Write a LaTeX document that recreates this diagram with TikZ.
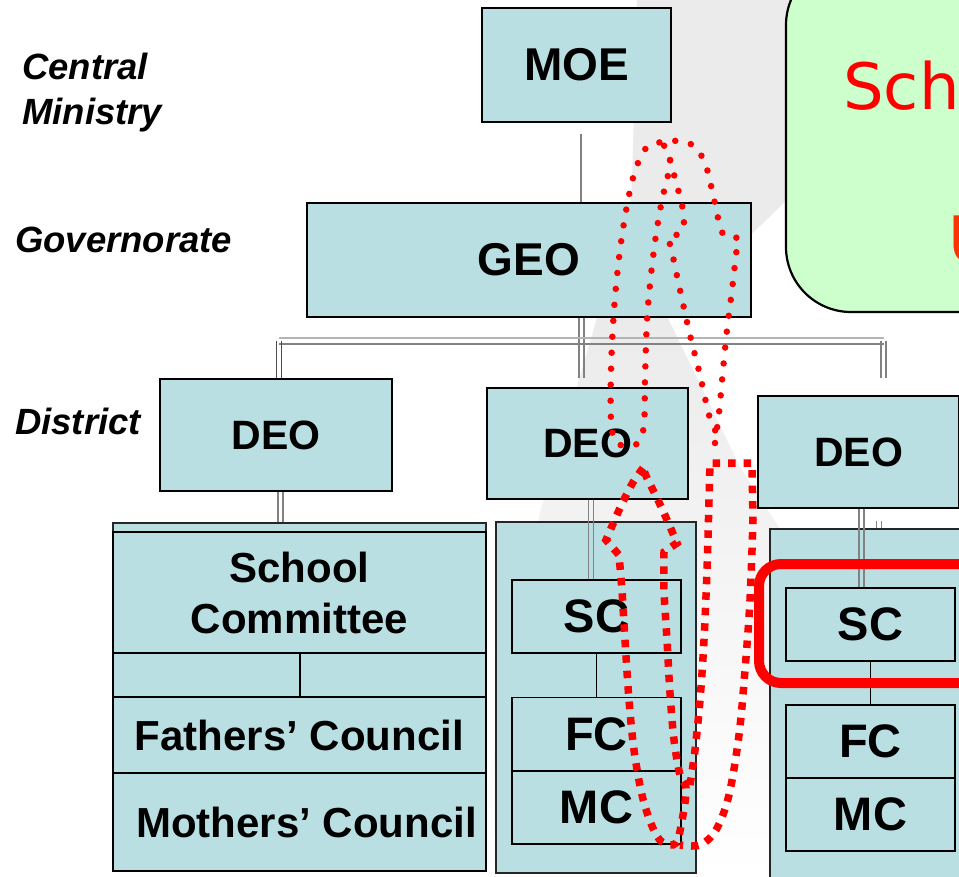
\documentclass[tikz,border=0pt]{standalone}
\usepackage{fontspec}
\setmainfont{Liberation Sans}
\newfontfamily\handfont{DejaVu Sans}
\usetikzlibrary{calc}
\definecolor{unitfill}{HTML}{B9DFE2}
\definecolor{wiregrey}{HTML}{828282}
\definecolor{haze}    {HTML}{EBEBEB}
\definecolor{notefill}{HTML}{CCFFCC}
\definecolor{alarm}   {HTML}{FF0000}
\definecolor{ember}   {HTML}{FF3300}

% two grey lines side by side, 5pt apart
\newcommand{\twin}[3][wire]{%
  \draw[#1] ($(#2)+(-2.5,0)$) -- ($(#3)+(-2.5,0)$);
  \draw[#1] ($(#2)+(2.5,0)$) -- ($(#3)+(2.5,0)$);}

\begin{document}
\begin{tikzpicture}[x=1pt, y=-1pt,
    unit/.style={draw=black, line width=1.4pt, fill=unitfill, inner sep=0pt,
      align=center, font=\bfseries\fontsize{46}{51}\selectfont},
    cell/.style={unit, minimum width=169pt, minimum height=73pt,
      font=\bfseries\fontsize{47}{51}\selectfont},
    holder/.style={draw=black!85, line width=1.4pt, fill=unitfill, inner sep=0pt},
    wire/.style={draw=wiregrey, line width=1.6pt},
    tier/.style={anchor=base west, inner sep=0pt,
      font=\bfseries\itshape\fontsize{36.5}{45}\selectfont},
    dots/.style={alarm, line width=6.5pt, line cap=round, dash pattern=on 0pt off 16pt},
    blocks/.style={alarm, line width=7.5pt, dash pattern=on 7.5pt off 8pt}]
  \useasboundingbox (0,0) rectangle (959,877);
  \clip (0,0) rectangle (959,877);

  % faint grey beam behind the chart
  \fill[haze] (637,0) -- (792,0) -- (792,195) -- (667,316) -- (597,320)
    .. controls (615,260) and (632,220) .. (632,180) -- cycle;
  \shade[top color=haze, bottom color=white] (597,318) -- (667,316) -- (740,467)
    -- (800,560) -- (800,877) -- (470,877) -- (540,513) -- cycle;

  % callout box, cut by the right edge
  \draw[fill=notefill, line width=2.2pt, rounded corners=65pt] (786,-40) rectangle (1100,312);
  \node[anchor=base west, inner sep=0pt, text=alarm,
        font=\handfont\fontsize{64}{70}\selectfont] (noteA) at (843,110) {Sch};
  \node[anchor=base west, inner sep=0pt, text=ember,
        font=\handfont\fontsize{64}{70}\selectfont] (noteB) at (948,263) {U};

  % level names
  \node[tier] (lvlCa) at (22,80) {Central};
  \node[tier] (lvlCb) at (22,125) {Ministry};
  \node[tier] (lvlG) at (15,253) {Governorate};
  \node[tier] (lvlD) at (15,435) {District};

  % top of the chart
  \node[unit, minimum width=189pt, minimum height=114pt] (moe) at (576.5,65) {MOE};
  \node[unit, minimum width=444pt, minimum height=114pt] (geo) at (529,260) {GEO};
  \node[unit, font=\bfseries\fontsize{41}{46}\selectfont,
        minimum width=232pt, minimum height=112pt] (deoA) at (276,435) {DEO};
  \node[unit, font=\bfseries\fontsize{41}{46}\selectfont,
        minimum width=201pt, minimum height=111pt] (deoB) at (587.5,443.5) {DEO};
  \node[unit, font=\bfseries\fontsize{41}{46}\selectfont,
        minimum width=201pt, minimum height=112pt] (deoC) at (858.5,452) {DEO};

  % school level holders
  \node[holder, minimum width=373pt, minimum height=348pt] (boxA) at (299.5,697) {};
  \node[holder, minimum width=200pt, minimum height=351pt] (boxB) at (596,697.5) {};
  \node[holder, minimum width=230pt, minimum height=371pt] (boxC) at (885,714.5) {};

  % connectors
  \coordinate (moeDrop) at ($(moe.south)+(4.5,0)$);
  \draw[wire] ($(moeDrop)+(0,11)$) -- (moeDrop |- geo.north);
  \coordinate (geoDrop) at ($(geo.south)+(52.5,0)$);
  \coordinate (busL) at (279,341);
  \coordinate (busR) at (883.5,341);
  \twin{geoDrop}{geoDrop |- deoA.north}
  \draw[wire, draw=wiregrey!60] ($(busL)+(0,-3)$) -- ($(busR)+(0,-3)$);
  \draw[wire] ($(busL)+(0,3)$) -- ($(busR)+(0,3)$);
  \twin[wire, draw=black!70]{busL}{busL |- deoA.north}
  \twin[wire, line width=2.5pt]{busR}{busR |- deoA.north}
  \coordinate (dropA) at ($(deoA.south)+(4.5,0)$);
  \coordinate (dropB) at ($(deoB.south)+(3.5,0)$);
  \coordinate (dropC) at ($(deoC.south)+(3,0)$);
  \coordinate (stubC) at ($(boxC.north west)+(110,-7)$);
  \twin{dropA}{dropA |- boxA.north}
  \twin[wire, line width=0.9pt]{stubC}{stubC |- boxC.north}

  % left school: committee and councils
  \node[unit, font=\bfseries\fontsize{42}{51}\selectfont,
        minimum width=373pt, minimum height=121pt] (scA) at (299.5,592.5) {School\\Committee};
  \node[unit, minimum width=187pt, minimum height=44pt] (splitL) at (206.5,675) {};
  \node[unit, minimum width=186pt, minimum height=44pt] (splitR) at (393,675) {};
  \node[unit, font=\bfseries\fontsize{42}{51}\selectfont,
        minimum width=373pt, minimum height=76pt] (faA) at (299.5,735) {Fathers’ Council};
  \node[unit, font=\bfseries\fontsize{42}{51}\selectfont,
        minimum width=373pt, minimum height=98pt] (moA) at (299.5,822)
        {\hspace*{14pt}Mothers’ Council};

  \foreach \nm/\cx/\cy/\txt in {scB/596.5/616.5/SC, fcB/596.5/734/FC, mcB/596.5/807.5/MC,
                               scC/870.5/624.5/SC, fcC/870.5/741.5/FC, mcC/870.5/814.5/MC}
    \node[cell] (\nm) at (\cx,\cy) {\txt};
  \twin{dropB}{dropB |- scB.north}
  \twin{dropC}{dropC |- scC.north}
  \draw[black, line width=1.3pt] (scB.south) -- (fcB.north);
  \draw[black, line width=1.3pt] (scC.south) -- (fcC.north);

  % red highlight round the right SC
  \draw[alarm, line width=10pt, rounded corners=22pt] (759,564) rectangle (1010,683);

  % hand drawn dotted trails
  \draw[dots] plot[smooth, tension=0.55] coordinates {(715,443) (719,413) (723,370) (727,330)
      (732,290) (736,255) (738,238)} -- (723,235)
    -- plot[smooth, tension=0.55] coordinates {(718,218) (712,190) (705,163) (694,146)
      (678,141) (662,142) (647,147) (636,168) (628,200) (620,250) (614,310) (611,370)
      (611,420) (615,441) (626,446) (638,443) (644,425) (645,380) (647,320) (651,275)
      (656,235) (662,200) (668,175) (670,158) (663,144)};
  \draw[dots] plot[smooth, tension=0.55] coordinates {(670,160) (676,182) (682,205)
      (684,222) (680,234)} -- (668,237)
    -- plot[smooth, tension=0.55] coordinates {(672,252) (680,290) (690,335) (700,375)
      (709,415) (716,432)};
  \draw[blocks] plot[smooth, tension=0.55] coordinates {(643,468) (632,484) (620,508)
      (606,540)} -- (619,555)
    -- plot[smooth, tension=0.55] coordinates {(622,590) (625,640) (629,700) (634,750)
      (642,795) (652,826) (662,842) (676,843) (683,815) (686,788) (680,775) (674,740)
      (670,693) (667,640) (664,590) (664,552)} -- (677,543)
    -- plot[smooth, tension=0.55] coordinates {(668,522) (657,498) (647,478) (643,468)};
  \draw[blocks] plot[smooth, tension=0.55] coordinates {(690,785) (695,750) (700,700)
      (704,640) (707,570) (709,500) (710,463)} -- (752,463)
    -- plot[smooth, tension=0.55] coordinates {(753,520) (750,600) (745,670) (739,735)
      (729,795) (716,830) (700,845) (680,845)};
\end{tikzpicture}
\end{document}
